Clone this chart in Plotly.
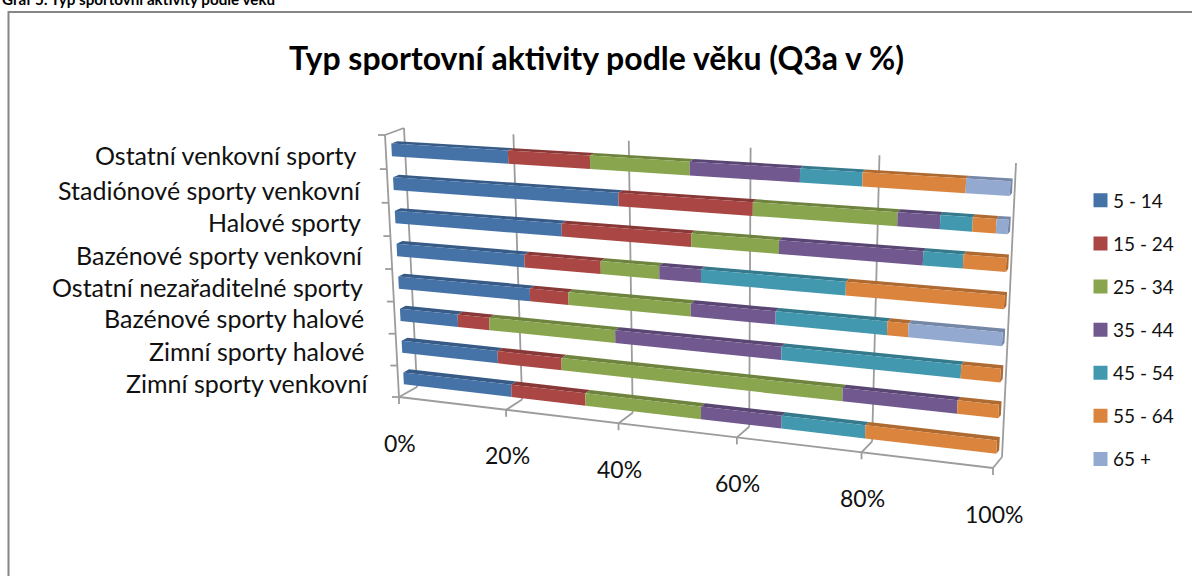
import plotly.graph_objects as go

TITLE = "Typ sportovní aktivity podle věku (Q3a v %)"
HEADING = "Graf 5: Typ sportovní aktivity podle věku"

categories = ["Ostatní venkovní sporty", "Stadiónové sporty venkovní", "Halové sporty",
              "Bazénové sporty venkovní", "Ostatní nezařaditelné sporty",
              "Bazénové sporty halové", "Zimní sporty halové", "Zimní sporty venkovní"]
series_names = ["5 - 14", "15 - 24", "25 - 34", "35 - 44", "45 - 54", "55 - 64", "65 +"]
age_5_14 = [21.0, 39.8, 30.0, 23.3, 24.1, 10.8, 17.9, 20.2]
age_15_24 = [14.1, 21.9, 21.8, 13.3, 6.8, 5.8, 11.5, 13.3]
age_25_34 = [16.5, 22.2, 14.1, 9.9, 20.8, 22.3, 46.9, 19.9]
age_35_44 = [17.4, 6.3, 22.0, 6.9, 13.8, 27.6, 17.6, 13.3]
age_45_54 = [9.5, 4.7, 5.9, 23.0, 17.4, 27.7, 0.0, 13.3]
age_55_64 = [15.2, 3.4, 6.2, 23.6, 3.2, 5.8, 6.1, 20.0]
age_65 = [6.3, 1.7, 0.0, 0.0, 13.9, 0.0, 0.0, 0.0]
series_values = [age_5_14, age_15_24, age_25_34, age_35_44, age_45_54, age_55_64, age_65]
colors = ["#4572A7", "#AA4643", "#89A54E", "#71588F", "#4198AF", "#DB843D", "#93A9CF"]
dark = ["#375B86", "#883836", "#6E843E", "#5A4672", "#347A8C", "#AF6A31", "#7587A6"]
ticks = [0, 20, 40, 60, 80, 100]
tick_labels = ["0%", "20%", "40%", "60%", "80%", "100%"]

# the 3-D box of the chart as seen in the picture (page pixels)
FRONT = [(399, 397), (993, 468), (1009, 172), (385, 135)]  # bl, br, tr, tl
BACK = [(417, 387), (1002, 457), (1016, 163), (404, 128)]
BAR_GAP = 0.31
BAR_D0, BAR_D1 = 0.30, 0.62
GRID = "#9C9C9C"


def square_to_quad(q):
    (x0, y0), (x1, y1), (x2, y2), (x3, y3) = q
    dx1, dx2, dx3 = x1 - x2, x3 - x2, x0 - x1 + x2 - x3
    dy1, dy2, dy3 = y1 - y2, y3 - y2, y0 - y1 + y2 - y3
    den = dx1 * dy2 - dx2 * dy1
    g = (dx3 * dy2 - dx2 * dy3) / den
    h = (dx1 * dy3 - dx3 * dy1) / den
    return (x1 - x0 + g * x1, x3 - x0 + h * x3, x0, y1 - y0 + g * y1, y3 - y0 + h * y3, y0, g, h)


HF, HB = square_to_quad(FRONT), square_to_quad(BACK)


def apply(H, u, v):
    a, b, c, d, e, f, g, h = H
    w = g * u + h * v + 1
    return (a * u + b * v + c) / w, (d * u + e * v + f) / w


def project(pct, cat, depth):
    """pct 0-100 along the value axis, cat 0-8 up the category axis, depth 0-1."""
    u, v = pct / 100, cat / 8
    xf, yf = apply(HF, u, v)
    xb, yb = apply(HB, u, v)
    return xf + (xb - xf) * depth, yf + (yb - yf) * depth


def add_poly(xs, ys, pts):
    xs.extend([p[0] for p in pts] + [pts[0][0], None])
    ys.extend([p[1] for p in pts] + [pts[0][1], None])


fig = go.Figure()

# walls, floor and axes
gx, gy = [], []


def seg(a, b):
    gx.extend([a[0], b[0], None])
    gy.extend([a[1], b[1], None])


for t in ticks:
    seg(project(t, 0, 1), project(t, 8, 1))
    seg(project(t, 0, 0), project(t, 0, 1))
    p = project(t, 0, 0)
    seg(p, (p[0], p[1] + 7))
seg(project(0, 0, 0), project(100, 0, 0))
seg(project(0, 0, 0), project(0, 8, 0))
seg(project(0, 8, 0), project(0, 8, 1))
for c in range(9):
    p = project(0, c, 0)
    seg(p, (p[0] - 7, p[1]))
fig.add_trace(go.Scatter(x=gx, y=gy, mode="lines", line=dict(color=GRID, width=1.8),
                         showlegend=False, hoverinfo="skip"))

# stacked bars
n = len(categories)
cum = [0.0] * n
for s, name in enumerate(series_names):
    fx, fy, tx, ty = [], [], [], []
    for r in range(n):
        val = series_values[s][r]
        if val <= 0:
            continue
        c = n - 1 - r
        a, b = cum[r], cum[r] + val
        lo, hi = c + BAR_GAP, c + 1 - BAR_GAP
        add_poly(fx, fy, [project(a, lo, BAR_D0), project(b, lo, BAR_D0),
                          project(b, hi, BAR_D0), project(a, hi, BAR_D0)])
        add_poly(tx, ty, [project(a, hi, BAR_D0), project(b, hi, BAR_D0),
                          project(b, hi, BAR_D1), project(a, hi, BAR_D1)])
        if b >= 99.95:
            add_poly(tx, ty, [project(b, lo, BAR_D0), project(b, lo, BAR_D1),
                              project(b, hi, BAR_D1), project(b, hi, BAR_D0)])
        cum[r] = b
    fig.add_trace(go.Scatter(x=tx, y=ty, mode="none", fill="toself", fillcolor=dark[s],
                             showlegend=False, hoverinfo="skip"))
    fig.add_trace(go.Scatter(x=fx, y=fy, mode="none", fill="toself", fillcolor=colors[s],
                             name=name, showlegend=False, hoverinfo="name"))

for s, name in enumerate(series_names):
    fig.add_trace(go.Scatter(x=[None], y=[None], mode="markers", name=name, legendgroup=name,
                             marker=dict(symbol="square", size=14, color=colors[s])))

FONT = "Lato, 'Open Sans', sans-serif"
annotations = []
label_right = [358, 363, 363, 365, 365, 366, 367, 370]
label_y = [155, 190, 222, 255, 287, 318, 351, 383]
for cat, xr, yc in zip(categories, label_right, label_y):
    annotations.append(dict(x=xr, y=yc, text=cat, xanchor="right", yanchor="middle", showarrow=False,
                            xref="x", yref="y", font=dict(family=FONT, size=25, color="#111111")))
for t, lab in zip(ticks, tick_labels):
    p = project(t, 0, 0)
    annotations.append(dict(x=p[0] + 1, y=p[1] + 45.5, text=lab, xanchor="center", yanchor="middle",
                            showarrow=False, xref="x", yref="y",
                            font=dict(family=FONT, size=23, color="#111111")))
annotations.append(dict(x=596, y=57, text="<b>%s</b>" % TITLE, xanchor="center", yanchor="middle",
                        showarrow=False, xref="x", yref="y",
                        font=dict(family=FONT, size=32, color="#000000")))
annotations.append(dict(x=0, y=1, text="<b>%s</b>" % HEADING, xanchor="left", yanchor="middle",
                        yshift=1, showarrow=False, xref="paper", yref="paper",
                        font=dict(family=FONT, size=15.2, color="#000000")))

fig.update_layout(
    width=1192, height=576, margin=dict(l=0, r=0, t=0, b=0),
    paper_bgcolor="white", plot_bgcolor="white",
    xaxis=dict(range=[0, 1192], visible=False, fixedrange=True),
    yaxis=dict(range=[576, 0], visible=False, fixedrange=True),
    annotations=annotations,
    shapes=[dict(type="rect", x0=8.5, y0=12, x1=1400, y1=800, xref="x", yref="y",
                 line=dict(color="#868686", width=2), layer="below")],
    legend=dict(x=1080.5 / 1192, y=1 - 181.5 / 576, xanchor="left", yanchor="top",
                font=dict(family=FONT, size=19, color="#111111"), tracegroupgap=15.4,
                bgcolor="rgba(0,0,0,0)", borderwidth=0),
    showlegend=True,
)

post = """
document.body.style.margin='0';document.body.style.overflow='hidden';
var gd=document.getElementById('{plot_id}');
function tightenLegend(){document.querySelectorAll('.legendtext').forEach(function(t){t.setAttribute('x','32.5');});}
gd.on('plotly_afterplot',tightenLegend);tightenLegend();setTimeout(tightenLegend,50);
"""
fig.write_html("out.html", config=dict(displayModeBar=False), post_script=post)
